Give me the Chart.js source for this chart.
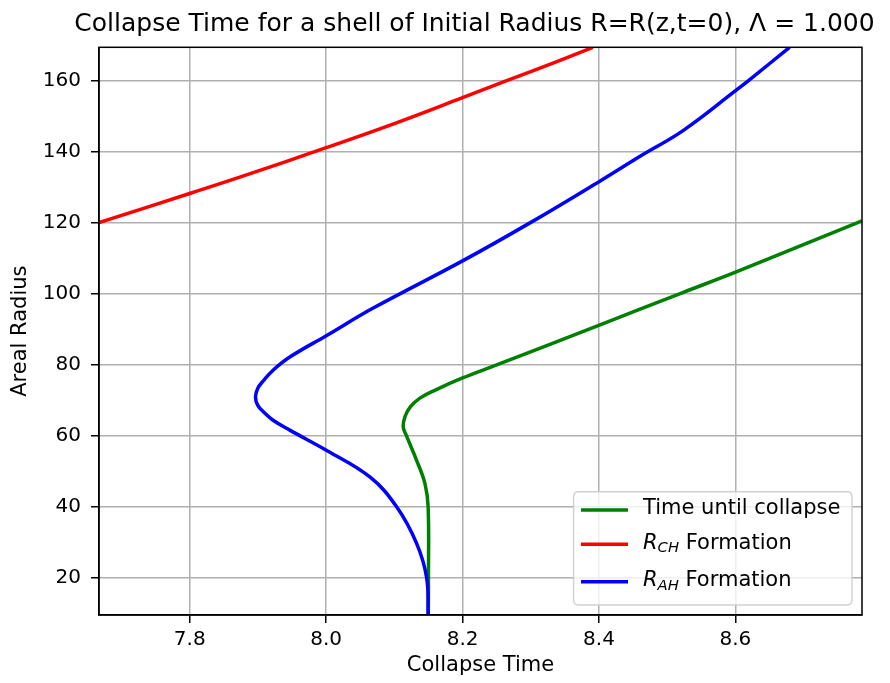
<!DOCTYPE html>
<html>
<head>
<meta charset="utf-8">
<script src="https://cdn.jsdelivr.net/npm/chart.js@4/dist/chart.umd.min.js"></script>
<style>
  html, body { margin: 0; padding: 0; background: #ffffff; }
  #wrap { width: 890px; height: 683px; }
</style>
</head>
<body>
<div id="wrap"><canvas id="c" width="890" height="683"></canvas></div>
<script>
// ---------- text ----------
const chartTitle = 'Collapse Time for a shell of Initial Radius R=R(z,t=0), Λ = 1.000';
const xAxisTitle = 'Collapse Time';
const yAxisTitle = 'Areal Radius';
const seriesLabels = ['Time until collapse', 'R_{CH} Formation', 'R_{AH} Formation'];

// ---------- axes ----------
const xTicks = [7.8, 8.0, 8.2, 8.4, 8.6];
const yTicks = [20, 40, 60, 80, 100, 120, 140, 160];
const xRange = [7.667, 8.7856];
const yRange = [9.4, 169.4];

// ---------- series: Time until collapse (green) ----------
const collapseX = [8.1497, 8.150, 8.1495, 8.1448, 8.1326, 8.118, 8.113, 8.116, 8.124, 8.138, 8.160, 8.200, 8.250, 8.4006, 8.5219, 8.6012, 8.7856];
const collapseY = [9.4, 20, 39.9, 46.5, 53.0, 59.8, 62.4, 65.5, 68.2, 70.6, 72.8, 76.2, 79.9, 91.1, 100.2, 106.1, 120.5];

// ---------- series: R_CH formation (red) ----------
const rchX = [7.667, 7.800, 7.8734, 8.000, 8.100, 8.200, 8.2647, 8.343, 8.391];
const rchY = [120, 128.2, 132.8, 141.1, 147.9, 155.2, 160, 165.7, 169.4];

// ---------- series: R_AH formation (blue) ----------
const rahX = [8.1497, 8.1473, 8.1326, 8.1033, 8.0641, 8.0015, 7.9467, 7.9222, 7.9086, 7.8998, 7.8964, 7.8998, 7.9075, 7.9222, 7.9467, 8.0015, 8.069, 8.200, 8.3014, 8.4006, 8.4603, 8.5238, 8.6012, 8.6192, 8.6794];
const rahY = [9.4, 20, 29.6, 39.9, 48.3, 55.7, 61.5, 64.3, 66.56, 68.5, 70.87, 73.3, 75.3, 78.4, 82.1, 88.25, 95.9, 109.2, 120.2, 131.6, 138.7, 146.0, 157.3, 160, 169.4];

const seriesColors = ['#008000', '#ff0000', '#0000ff'];

const FONT = '"DejaVu Sans", "Liberation Sans", sans-serif';

function toPoints(xs, ys) { return xs.map((x, i) => ({ x: x, y: ys[i] })); }

// Title drawn centred over the plot area
const titlePlugin = {
  id: 'axesTitle',
  afterDraw(chart) {
    const { ctx, chartArea } = chart;
    ctx.save();
    ctx.font = '25px ' + FONT;
    ctx.fillStyle = '#000';
    ctx.textAlign = 'center';
    ctx.textBaseline = 'middle';
    ctx.fillText(chartTitle, (chartArea.left + chartArea.right) / 2 - 6, 24);
    ctx.restore();
  }
};

// Full box around the axes (spines)
const spinesPlugin = {
  id: 'spines',
  afterDatasetsDraw(chart) {
    const { ctx, chartArea: a } = chart;
    ctx.save();
    ctx.strokeStyle = '#000';
    ctx.lineWidth = 1.5;
    ctx.strokeRect(a.left, a.top, a.right - a.left, a.bottom - a.top);
    ctx.restore();
  }
};

// Legend in the lower-right corner, with mathtext-like subscripts
const legendPlugin = {
  id: 'mplLegend',
  afterDraw(chart) {
    const { ctx, chartArea: a } = chart;
    const bx = a.right - 288.4, by = a.bottom - 123.3, bw = 278.4, bh = 113.3, r = 5;
    ctx.save();
    ctx.beginPath();
    ctx.moveTo(bx + r, by);
    ctx.lineTo(bx + bw - r, by);
    ctx.quadraticCurveTo(bx + bw, by, bx + bw, by + r);
    ctx.lineTo(bx + bw, by + bh - r);
    ctx.quadraticCurveTo(bx + bw, by + bh, bx + bw - r, by + bh);
    ctx.lineTo(bx + r, by + bh);
    ctx.quadraticCurveTo(bx, by + bh, bx, by + bh - r);
    ctx.lineTo(bx, by + r);
    ctx.quadraticCurveTo(bx, by, bx + r, by);
    ctx.closePath();
    ctx.fillStyle = 'rgba(255,255,255,0.8)';
    ctx.fill();
    ctx.strokeStyle = 'rgba(204,204,204,0.9)';
    ctx.lineWidth = 1.4;
    ctx.stroke();

    const rowOffsets = [18.3, 52.6, 90.0];
    chart.data.datasets.forEach((ds, i) => {
      const yy = by + rowOffsets[i];
      ctx.strokeStyle = ds.borderColor;
      ctx.lineWidth = 3.5;
      ctx.lineCap = 'butt';
      ctx.beginPath();
      ctx.moveTo(bx + 7.4, yy);
      ctx.lineTo(bx + 54.4, yy);
      ctx.stroke();

      let tx = bx + 69.4;
      const ty = yy - 1;
      ctx.fillStyle = '#000';
      ctx.textAlign = 'left';
      ctx.textBaseline = 'middle';
      const m = /^(\w)_\{(\w+)\}(.*)$/.exec(ds.label);
      if (m) {
        ctx.font = 'italic 21px ' + FONT;
        ctx.fillText(m[1], tx, ty);
        tx += ctx.measureText(m[1]).width;
        ctx.font = 'italic 14.8px ' + FONT;
        ctx.fillText(m[2], tx, ty + 5);
        tx += ctx.measureText(m[2]).width;
        ctx.font = '21px ' + FONT;
        ctx.fillText(m[3], tx, ty);
      } else {
        ctx.font = '21px ' + FONT;
        ctx.fillText(ds.label, tx, ty);
      }
    });
    ctx.restore();
  }
};

const commonLine = { showLine: true, pointRadius: 0, pointHoverRadius: 0, borderWidth: 3.5, tension: 0.4, fill: false, borderCapStyle: 'butt', borderJoinStyle: 'round' };

new Chart(document.getElementById('c'), {
  type: 'scatter',
  data: {
    datasets: [
      Object.assign({ label: seriesLabels[0], data: toPoints(collapseX, collapseY), borderColor: seriesColors[0], backgroundColor: seriesColors[0], order: 3 }, commonLine),
      Object.assign({ label: seriesLabels[1], data: toPoints(rchX, rchY), borderColor: seriesColors[1], backgroundColor: seriesColors[1], order: 2 }, commonLine),
      Object.assign({ label: seriesLabels[2], data: toPoints(rahX, rahY), borderColor: seriesColors[2], backgroundColor: seriesColors[2], order: 1 }, commonLine)
    ]
  },
  options: {
    responsive: false,
    animation: false,
    devicePixelRatio: 1,
    layout: { padding: { left: 0, right: 28, top: 47.3, bottom: 0 } },
    plugins: {
      legend: { display: false },
      title: { display: false },
      tooltip: { enabled: false }
    },
    scales: {
      x: {
        type: 'linear',
        min: xRange[0],
        max: xRange[1],
        afterBuildTicks: (s) => { s.ticks = xTicks.map(v => ({ value: v })); },
        afterFit: (s) => { s.height = 68; },
        ticks: {
          callback: (v) => Number(v).toFixed(1),
          font: { family: FONT, size: 20 },
          color: '#000',
          padding: 5,
          maxRotation: 0,
          autoSkip: false
        },
        grid: { color: '#b0b0b0', lineWidth: 1.5, tickColor: '#000', tickLength: 8, tickWidth: 1.5, drawTicks: true },
        border: { display: true, color: '#000', width: 1.5 },
        title: { display: true, text: xAxisTitle, color: '#000', font: { family: FONT, size: 21 }, padding: { top: 0, bottom: 4.7 } }
      },
      y: {
        type: 'linear',
        min: yRange[0],
        max: yRange[1],
        afterBuildTicks: (s) => { s.ticks = yTicks.map(v => ({ value: v })); },
        afterFit: (s) => { s.width = 99; },
        ticks: {
          callback: (v) => String(v),
          font: { family: FONT, size: 20 },
          color: '#000',
          padding: 10,
          autoSkip: false
        },
        grid: { color: '#b0b0b0', lineWidth: 1.5, tickColor: '#000', tickLength: 8, tickWidth: 1.5, drawTicks: true },
        border: { display: true, color: '#000', width: 1.5 },
        title: { display: true, text: yAxisTitle, color: '#000', font: { family: FONT, size: 21 }, padding: { top: 8.4, bottom: 0 } }
      }
    }
  },
  plugins: [titlePlugin, spinesPlugin, legendPlugin]
});
</script>
</body>
</html>
